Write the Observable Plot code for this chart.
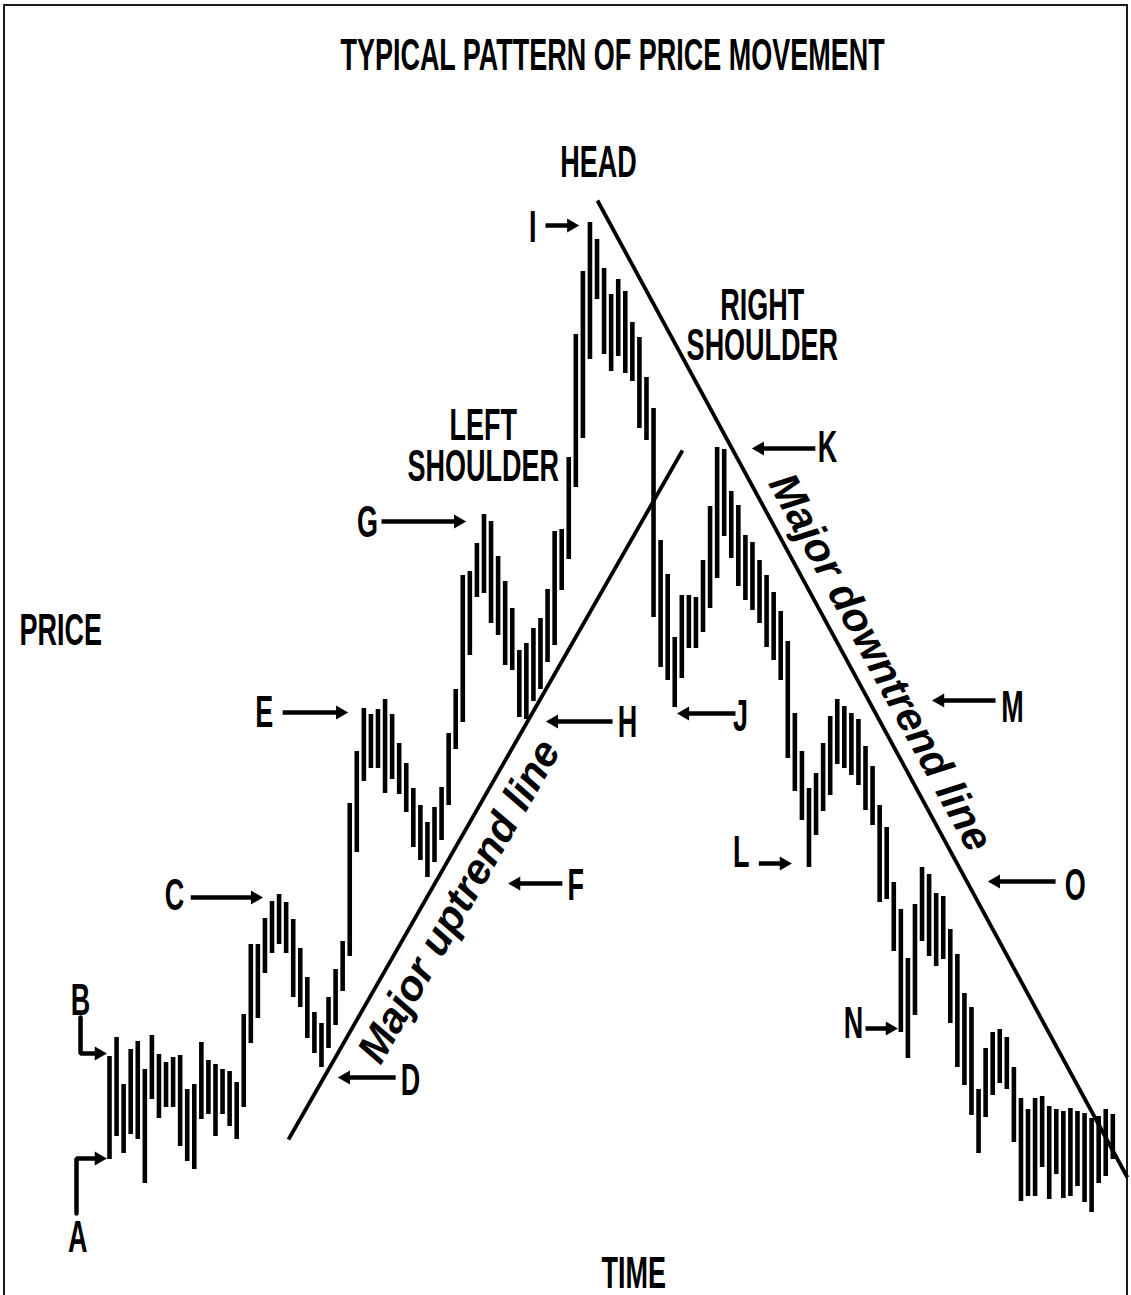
<!DOCTYPE html>
<html>
<head>
<meta charset="utf-8">
<script src="https://cdn.jsdelivr.net/npm/d3@7"></script>
<script src="https://cdn.jsdelivr.net/npm/@observablehq/plot@0.6"></script>
<style>
html,body{margin:0;padding:0;background:#fff;overflow:hidden}
#wrap{position:relative;width:1131px;height:1295px;overflow:hidden}
#wrap svg{position:absolute;left:0;top:0}
#frame{position:absolute;left:3px;top:4px;width:1125px;height:1320px;border:2px solid #1a1a1a;box-sizing:border-box;pointer-events:none}
</style>
</head>
<body>
<div id="wrap"><div id="frame"></div></div>
<script>
// ---- data: daily high / low of the price series (trading day index 0..142)
const days = d3.range(143);
const highs = [
  19.4,21.3,16.6,20.1,20.9,18.1,21.5,19.6,18.8,19.3,
  19.5,16.1,16.6,20.8,19.0,18.6,18.1,17.9,16.8,23.6,
  30.6,30.6,33.2,34.9,35.6,34.8,33.1,30.2,27.3,23.8,
  22.7,25.3,28.1,30.9,44.7,49.9,54.2,53.6,54.1,55.1,
  53.6,50.7,48.7,46.2,44.5,42.8,44.3,46.3,51.7,56.1,
  67.5,67.9,70.7,73.6,72.9,69.4,66.9,64.2,60.0,60.7,
  62.2,63.2,66.1,71.9,72.1,79.3,91.6,97.9,102.8,101.1,
  98.2,95.6,97.1,95.9,92.8,91.3,87.3,84.2,71.0,67.6,
  61.3,65.5,65.5,65.3,69.0,74.4,80.3,80.1,75.9,74.5,
  71.5,70.8,69.0,67.5,65.8,63.9,60.9,53.7,49.9,46.2,
  47.7,50.7,53.4,55.1,54.4,53.7,53.1,50.4,48.4,44.5,
  42.3,36.8,34.1,29.2,34.6,38.3,37.6,35.7,35.4,32.1,
  29.6,25.7,24.3,16.1,20.2,21.8,22.1,21.3,18.3,15.2,
  14.1,15.2,15.4,14.4,14.1,13.9,14.2,13.9,13.7,13.2,
  13.4,14.1,13.6
];
const lows = [
  9.1,11.4,9.7,11.6,11.1,6.7,15.1,13.2,14.3,14.3,
  10.4,8.9,8.1,13.1,13.6,11.4,13.6,12.4,11.1,14.3,
  20.7,23.2,27.7,29.7,30.6,29.7,25.3,24.3,21.2,19.7,
  18.3,20.2,22.5,25.9,29.4,39.8,46.9,48.2,48.2,45.7,
  47.1,45.6,43.8,40.3,39.0,37.3,38.8,41.0,44.5,50.1,
  52.8,59.5,65.3,65.7,62.7,61.5,58.5,58.0,53.3,53.1,
  54.9,56.1,58.8,60.5,66.0,69.1,76.3,81.2,89.1,95.1,
  89.6,87.9,89.4,87.7,86.9,82.2,81.0,63.3,58.3,57.0,
  54.3,57.2,60.2,60.2,61.8,64.2,67.2,71.4,69.2,66.4,
  65.0,64.0,62.7,60.3,59.0,57.0,49.2,45.9,43.0,38.3,
  41.5,43.9,45.5,48.6,48.2,47.5,46.5,44.0,42.5,34.8,
  35.1,29.9,21.8,19.2,23.5,30.9,29.4,28.4,29.1,22.7,
  18.3,16.5,13.5,9.7,13.3,15.5,16.7,16.1,10.8,4.9,
  5.4,5.4,8.3,5.1,7.6,5.2,5.4,6.4,4.8,3.8,
  6.7,7.4,9.1
];

// ---- annotation text and anchors (in day / price units)
const labelTexts = ["TYPICAL PATTERN OF PRICE MOVEMENT","HEAD","RIGHT","SHOULDER","LEFT","SHOULDER","PRICE","TIME",
  "A","B","C","D","E","F","G","H","I","J","K","L","M","N","O"];
const labelDays   = [71.2,69.2,92.4,92.4,52.9,52.9,-6.9,74.2,
  -4.5,-4.1,9.2,42.6,21.9,66.0,36.5,73.3,59.9,89.3,101.6,89.4,127.8,105.3,136.7];
const labelPrices = [119.5,108.8,94.5,90.5,82.5,78.4,62.0,-2.3,
  1.3,25.0,35.5,17.0,53.8,36.5,72.8,52.8,102.3,53.4,80.3,39.8,54.3,22.7,36.5];

const arrowFrom  = [11.5,40.5,24.5,64.1,38.5,71.2,61.7,88.6,99.9,91.9,125.4,107.0,133.9];
const arrowTo    = [21.65,32.4,33.7,56.5,50.4,61.85,66.4,80.4,91.0,96.5,116.5,111.5,124.4];
const arrowPrice = [35.3,17.3,53.8,36.7,72.9,52.9,102.5,53.7,80.2,38.7,55.0,22.2,36.9];

const bentIds    = ["A","A","A","B","B","B"];
const bentDays   = [-4.67,-4.67,-0.45,-4.1,-4.1,-0.45];
const bentPrices = [3.7,9.2,9.2,23.3,19.7,19.7];

const trendNames = ["Major uptrend line","Major downtrend line"];
const trendStart = [[25.33,11.1],[69.06,105.0]];
const trendEnd   = [[81.09,80.0],[144.07,7.3]];
const trendTextPos = [[49.5,34.9],[109.1,58.8]];

// ---- build tables
const bars = days.map(i => ({day: i, high: highs[i], low: lows[i]}));
const labels = labelTexts.map((t, k) => ({text: t, x: labelDays[k], y: labelPrices[k]}));
const arrows = arrowFrom.map((a, k) => ({x1: a, x2: arrowTo[k], y: arrowPrice[k], dir: Math.sign(arrowTo[k] - a)}));
const bent = bentIds.map((id, k) => ({id, x: bentDays[k], y: bentPrices[k]}));
const bentHeads = ["A","B"].map(id => { const p = bent.filter(d => d.id === id); const a = p[p.length-2], b = p[p.length-1]; return {x1: a.x, x2: b.x, y: b.y, dir: Math.sign(b.x - a.x)}; });
const bentShaft = bent.map((d, k) => (k % 3 === 2) ? {...d, x: d.x - 0.9} : d);
const heads = arrows.concat(bentHeads);
const trends = trendNames.map((n, k) => ({name: n, x1: trendStart[k][0], y1: trendStart[k][1], x2: trendEnd[k][0], y2: trendEnd[k][1], tx: trendTextPos[k][0], ty: trendTextPos[k][1]}));

const font = "'Liberation Sans', Arial, Helvetica, sans-serif";

const chart = Plot.plot({
  width: 1131,
  height: 1295,
  margin: 0,
  style: {background: "transparent", overflow: "visible"},
  x: {domain: [0, 142], range: [109, 1112.3], axis: null},
  y: {domain: [-4.5, 125], range: [1295, 0], axis: null},
  marks: [
    Plot.ruleX(bars, {x: "day", y1: "low", y2: "high", stroke: "#000", strokeWidth: 4.6}),
    Plot.link(trends, {x1: "x1", y1: "y1", x2: "x2", y2: "y2", stroke: "#000", strokeWidth: 3.8}),
    Plot.text(trends.slice(0,1), {x: "tx", y: "ty", text: "name", rotate: -60.2, fontSize: 42, fontWeight: "bold", fontStyle: "italic", fontFamily: font, fill: "#000"}),
    Plot.text(trends.slice(1), {x: "tx", y: "ty", text: "name", rotate: 61.5, fontSize: 42, fontWeight: "bold", fontStyle: "italic", fontFamily: font, fill: "#000"}),
    Plot.link(arrows, {x1: "x1", y1: "y", x2: d => d.x2 - d.dir * 0.9, y2: "y", stroke: "#000", strokeWidth: 4.5}),
    Plot.line(bentShaft, {x: "x", y: "y", z: "id", stroke: "#000", strokeWidth: 4.5, strokeLinejoin: "miter"}),
    Plot.dot(heads.filter(d => d.dir > 0), {x: "x2", y: "y", symbol: "triangle", r: 5.2, fill: "#000", stroke: "none", rotate: 90, dx: -7.5}),
    Plot.dot(heads.filter(d => d.dir < 0), {x: "x2", y: "y", symbol: "triangle", r: 5.2, fill: "#000", stroke: "none", rotate: -90, dx: 7.5}),
    Plot.text(labels, {x: "x", y: "y", text: "text", fontSize: 45, fontWeight: "bold", fontFamily: font, fill: "#000"})
  ]
});
document.getElementById("wrap").appendChild(chart);
// narrow (condensed) lettering: squeeze each label horizontally about its own centre
const condensed = new Set(labelTexts);
chart.querySelectorAll("text").forEach(t => {
  if (!condensed.has(t.textContent)) return;
  const b = t.getBBox();
  if (!(b.width > 0)) return;
  const cx = b.x + b.width / 2;
  const prev = t.getAttribute("transform") || "";
  t.setAttribute("transform", `${prev} translate(${cx.toFixed(2)},0) scale(0.6,1) translate(${(-cx).toFixed(2)},0)`.trim());
});
</script>
</body>
</html>
